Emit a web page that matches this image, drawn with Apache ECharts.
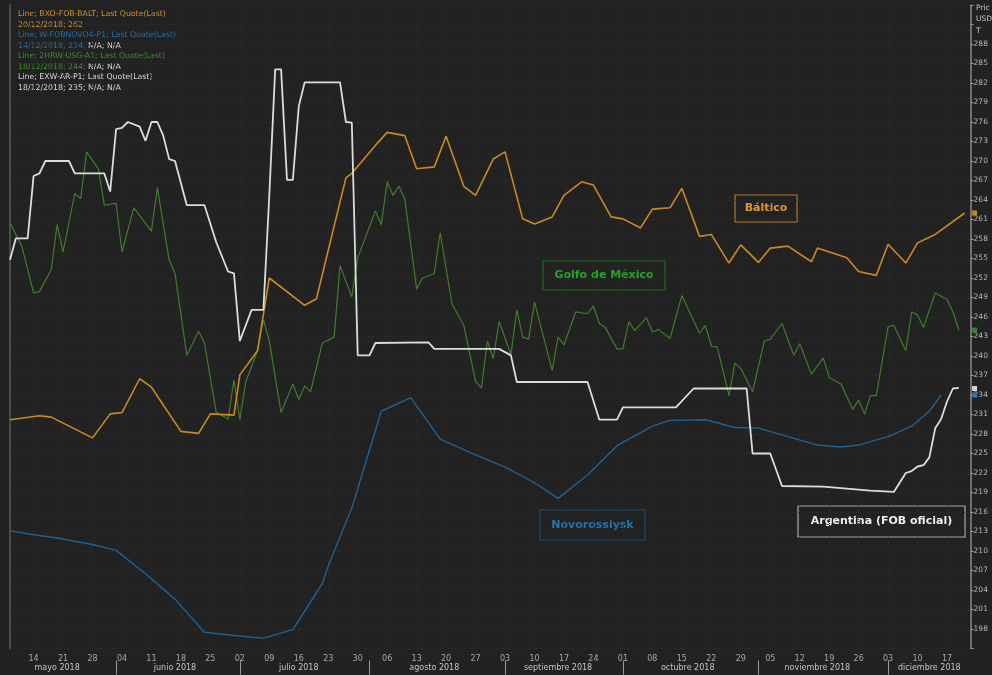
<!DOCTYPE html>
<html><head><meta charset="utf-8">
<script src="https://cdn.jsdelivr.net/npm/echarts@6/dist/echarts.min.js"></script>
<style>html,body{margin:0;padding:0;background:#222;}#c{width:992px;height:675px;}</style>
</head><body><div id="c"></div>
<script>
// ---- axis definitions ----
const xStart = [2018, 4, 8];   // 8 May 2018 (business-day axis)
const xEnd = [2018, 11, 21];   // 21 Dec 2018
const monthNames = ['enero','febrero','marzo','abril','mayo','junio','julio','agosto','septiembre','octubre','noviembre','diciembre'];
const yearLabel = '2018';
const yMin = 195, yMax = 294, yStep = 3, yLabelMin = 198, yLabelMax = 288;
const axisTitle = ['Pric', 'USD', 'T'];

// ---- series data: [date (MM-DD), USD/t] ----
const baltico = [['05-08',230.2],['05-15',230.8],['05-17',230.6],['05-28',227.4],['05-31',231.1],['06-04',231.3],['06-07',236.5],['06-11',235.2],['06-18',228.4],['06-21',228.1],['06-25',231.1],['06-29',230.9],['07-02',237.1],['07-05',240.8],['07-09',252.0],['07-17',247.8],['07-19',248.8],['07-26',267.4],['07-27',268.1],['08-02',272.4],['08-06',274.4],['08-09',273.9],['08-13',268.8],['08-16',269.1],['08-20',273.8],['08-23',266.1],['08-27',264.7],['08-30',270.3],['09-03',271.4],['09-06',261.1],['09-10',260.3],['09-13',261.4],['09-17',264.7],['09-20',266.8],['09-24',266.3],['09-27',261.4],['10-01',261.1],['10-04',259.7],['10-08',262.6],['10-11',262.8],['10-15',265.8],['10-18',258.4],['10-22',258.7],['10-25',254.3],['10-29',257.1],['11-01',254.4],['11-05',256.6],['11-08',256.9],['11-14',254.5],['11-15',256.6],['11-22',255.1],['11-26',253.0],['11-29',252.4],['12-03',257.2],['12-06',254.3],['12-10',257.4],['12-13',258.7],['12-20',262.0]];

const novorossiysk = [['05-08',213.1],['05-14',212.5],['05-18',212.0],['05-28',211.0],['06-01',210.1],['06-08',206.5],['06-15',202.6],['06-22',197.5],['06-29',197.0],['07-06',196.6],['07-13',197.9],['07-20',205.0],['07-23',207.7],['07-27',216.6],['08-03',231.5],['08-10',233.6],['08-17',227.2],['08-27',224.8],['09-03',222.9],['09-10',220.5],['09-14',218.1],['09-21',221.7],['09-28',226.2],['10-08',229.2],['10-11',230.1],['10-19',230.2],['10-26',229.0],['11-01',228.9],['11-08',227.6],['11-15',226.3],['11-21',226.0],['11-26',226.3],['12-03',227.6],['12-07',229.2],['12-12',231.5],['12-14',234.0]];

const golfo = [['05-08',260.5],['05-10',256.9],['05-14',249.7],['05-15',249.9],['05-17',253.3],['05-18',260.2],['05-21',256.0],['05-23',265.0],['05-24',264.2],['05-25',271.4],['05-29',268.8],['05-30',263.2],['06-01',263.5],['06-04',256.0],['06-06',262.8],['06-11',259.2],['06-12',265.9],['06-14',254.8],['06-15',252.7],['06-19',240.1],['06-21',243.8],['06-22',242.0],['06-26',231.3],['06-27',230.8],['06-28',230.3],['06-29',236.3],['07-02',230.2],['07-03',236.0],['07-05',240.8],['07-06',245.6],['07-09',242.3],['07-11',231.3],['07-13',235.7],['07-16',233.3],['07-17',235.4],['07-18',234.5],['07-20',242.0],['07-24',242.9],['07-25',253.9],['07-27',249.1],['07-30',255.1],['08-02',262.3],['08-03',260.2],['08-06',266.8],['08-07',264.7],['08-08',266.1],['08-09',264.1],['08-13',250.3],['08-14',252.0],['08-16',252.7],['08-17',259.0],['08-21',248.0],['08-23',244.7],['08-27',236.1],['08-28',235.1],['08-29',242.3],['08-30',239.6],['08-31',245.3],['09-04',240.2],['09-05',247.1],['09-06',242.9],['09-07',242.6],['09-10',248.3],['09-13',237.8],['09-14',242.9],['09-17',241.7],['09-19',246.8],['09-21',246.5],['09-24',247.7],['09-25',245.0],['09-26',244.4],['09-28',241.1],['10-01',241.1],['10-02',245.3],['10-03',243.9],['10-05',245.9],['10-08',243.7],['10-09',244.1],['10-11',242.7],['10-15',249.3],['10-18',243.5],['10-19',244.7],['10-22',241.5],['10-23',241.4],['10-25',233.9],['10-26',238.9],['10-29',238.1],['10-31',234.5],['11-02',242.3],['11-05',242.6],['11-07',245.0],['11-09',240.1],['11-12',241.9],['11-14',237.2],['11-16',239.7],['11-19',236.7],['11-21',235.7],['11-23',231.8],['11-26',233.2],['11-27',231.1],['11-28',233.9],['11-29',233.9],['12-03',244.5],['12-04',244.7],['12-06',240.8],['12-07',246.8],['12-10',246.3],['12-11',244.4],['12-13',249.7],['12-17',248.7],['12-18',246.8],['12-19',244.0]];

const argentina = [['05-08',254.8],['05-09',258.1],['05-11',258.1],['05-14',267.7],['05-15',268.1],['05-16',270.0],['05-22',270.0],['05-23',268.1],['05-30',268.1],['05-31',265.3],['06-01',274.9],['06-04',275.1],['06-05',276.0],['06-07',275.3],['06-08',273.1],['06-11',276.0],['06-12',276.0],['06-13',273.9],['06-14',270.3],['06-15',270.0],['06-19',263.2],['06-22',263.2],['06-26',257.5],['06-28',253.0],['06-29',252.7],['07-02',242.3],['07-04',247.1],['07-06',247.1],['07-09',264.7],['07-10',284.1],['07-11',284.1],['07-12',267.1],['07-13',267.1],['07-16',278.4],['07-17',282.1],['07-25',282.1],['07-26',276.0],['07-27',275.9],['07-30',240.1],['08-01',240.1],['08-02',242.0],['08-15',242.1],['08-16',241.1],['08-31',241.1],['09-04',240.1],['09-05',236.0],['09-21',236.0],['09-25',230.2],['09-28',230.2],['10-01',232.1],['10-12',232.1],['10-17',235.0],['10-30',235.0],['10-31',225.0],['11-05',225.0],['11-07',220.0],['11-16',219.9],['11-28',219.3],['12-04',219.1],['12-06',222.0],['12-07',222.3],['12-10',223.0],['12-11',223.2],['12-12',224.4],['12-13',228.9],['12-14',230.3],['12-17',233.0],['12-18',235.0],['12-19',235.1]];

// last quotes shown as markers on the price axis
const lastQuotes = [262, 244, 235, 234];

// legend text lines (top-left)
const legendLines = [
  ['Line; BXO-FOB-BALT; Last Quote(Last)', '', 'o'],
  ['20/12/2018; 262', '', 'o'],
  ['Line; W-FOBNOVO4-P1; Last Quote(Last)', '', 'b'],
  ['14/12/2018; 234; ', 'N/A; N/A', 'b'],
  ['Line; 2HRW-USG-A1; Last Quote(Last)', '', 'g'],
  ['18/12/2018; 244; ', 'N/A; N/A', 'g'],
  ['Line; EXW-AR-P1; Last Quote(Last)', '', 'w'],
  ['18/12/2018; 235; ', 'N/A; N/A', 'w']
];

// ---- colours ----
const C = {o:'#c98a22', b:'#1f6295', g:'#3f7d2d', w:'#dcdcdc'};
const TXT = {o:'#d0922a', b:'#2470ab', g:'#3f8f30', w:'#d8d8d8'};

// ---- business-day categories ----
function pad(n){return (n<10?'0':'')+n;}
const cats = [], dows = [], months = [];
(function(){
  let t = Date.UTC(xStart[0], xStart[1], xStart[2]);
  const end = Date.UTC(xEnd[0], xEnd[1], xEnd[2]);
  while (t <= end) {
    const d = new Date(t), w = d.getUTCDay();
    if (w > 0 && w < 6) { cats.push(pad(d.getUTCMonth()+1)+'-'+pad(d.getUTCDate())); dows.push(w); months.push(d.getUTCMonth()); }
    t += 86400000;
  }
})();
const monthStart = new Set(), monthMid = new Set();
(function(){
  let a = 0;
  for (let i = 1; i <= cats.length; i++) {
    if (i === cats.length || months[i] !== months[i-1]) {
      monthMid.add(Math.floor((a + i - 1) / 2));
      if (i < cats.length) monthStart.add(i);
      a = i;
    }
  }
})();
const isMonday = i => dows[i] === 1;

const FONT = 'DejaVu Sans';
const chart = echarts.init(document.getElementById('c'), null, {renderer:'canvas'});

function line(name, data, color, width, z){
  return {name, type:'line', data, xAxisIndex:0, yAxisIndex:0, showSymbol:false, symbol:'none',
    lineStyle:{color, width}, itemStyle:{color}, z, animation:false};
}

function box(text, x, y, w, h, stroke, fill){
  return {type:'group', children:[
    {type:'rect', shape:{x, y, width:w, height:h}, style:{fill:'rgba(0,0,0,0)', stroke, lineWidth:1.2}},
    {type:'text', x:x+w/2, y:y+h/2, style:{text, fill, font:'bold 11px "'+FONT+'"', textAlign:'center', textVerticalAlign:'middle'}}
  ]};
}

const graphics = [];
legendLines.forEach((l, i) => {
  graphics.push({type:'text', left:18, top:10 + i*10.5, style:{
    text: '{c|' + l[0] + '}' + (l[1] ? '{w|' + l[1] + '}' : ''),
    rich:{c:{fill:TXT[l[2]], font:'7.8px "'+FONT+'"'}, w:{fill:'#d8d8d8', font:'7.8px "'+FONT+'"'}}
  }});
});
axisTitle.forEach((t, i) => {
  graphics.push({type:'text', left:976, top:4 + i*11.5, style:{text:t, fill:'#c8c8c8', font:'7.5px "'+FONT+'"'}});
});
graphics.push(box('Báltico', 735, 195, 62, 27, '#b97a1f', '#dc9a30'));
graphics.push(box('Golfo de México', 543, 261, 122, 29, '#1f6a1f', '#22a822'));
graphics.push(box('Novorossiysk', 540, 510, 105, 30, '#1b4d73', '#2372ae'));
graphics.push(box('Argentina (FOB oficial)', 798, 506, 167, 31, '#a8a8a8', '#ececec'));

const option = {
  backgroundColor:'#222222',
  animation:false,
  textStyle:{fontFamily:FONT},
  grid:{left:10, right:21.4, top:5, bottom:26.5},
  xAxis:[
    {type:'category', data:cats, boundaryGap:false, position:'bottom',
     axisLine:{show:false},
     axisTick:{show:false},
     axisLabel:{interval:(i)=>isMonday(i), formatter:(v)=>v.slice(3), color:'#a8a8a8', fontSize:8, fontFamily:FONT, margin:6},
     splitLine:{show:true, interval:(i)=>isMonday(i), lineStyle:{color:'#2b2b2b', width:1, type:'dotted'}}},
    {type:'category', data:cats, boundaryGap:false, position:'bottom', offset:12,
     axisLine:{show:false},
     axisTick:{show:true, interval:(i)=>monthStart.has(i), length:14, lineStyle:{color:'#9a9a9a', width:1}},
     axisLabel:{interval:(i)=>monthMid.has(i), formatter:(v)=>monthNames[parseInt(v.slice(0,2),10)-1]+' '+yearLabel,
       color:'#c4c4c4', fontSize:8, fontFamily:FONT, margin:3},
     splitLine:{show:false}}
  ],
  yAxis:[
    {type:'value', position:'right', min:yMin, max:yMax, interval:yStep,
     axisLine:{show:true, lineStyle:{color:'#8a8a8a', width:1.5}},
     axisTick:{show:true, length:3, lineStyle:{color:'#9a9a9a'}},
     axisLabel:{formatter:(v)=> (v>=yLabelMin && v<=yLabelMax) ? String(v) : '', color:'#b4b8c0', fontSize:7.5, fontFamily:FONT, margin:3},
     splitLine:{show:true, lineStyle:{color:'#2b2b2b', width:1, type:'dotted'}}},
    {type:'value', position:'left', min:yMin, max:yMax, interval:yStep,
     axisLine:{show:true, lineStyle:{color:'#4a4a4a', width:2}},
     axisTick:{show:false}, axisLabel:{show:false}, splitLine:{show:false}}
  ],
  series:[
    line('Golfo de México', golfo, C.g, 1.2, 2),
    line('Novorossiysk', novorossiysk, C.b, 1.4, 3),
    line('Báltico', baltico, C.o, 1.6, 4),
    line('Argentina (FOB oficial)', argentina, C.w, 1.8, 5),
    {type:'scatter', clip:false, symbol:'rect', symbolSize:5, symbolOffset:[4,0], z:6, animation:false,
     data:[
       {value:[cats[cats.length-1], lastQuotes[0]], itemStyle:{color:'#e8a020'}},
       {value:[cats[cats.length-1], lastQuotes[1]], itemStyle:{color:'#3aa030'}},
       {value:[cats[cats.length-1], lastQuotes[2]], itemStyle:{color:'#ffffff'}},
       {value:[cats[cats.length-1], lastQuotes[3]], itemStyle:{color:'#2a7fc8'}}
     ]}
  ],
  graphic: graphics
};
chart.setOption(option);
</script>
</body></html>
